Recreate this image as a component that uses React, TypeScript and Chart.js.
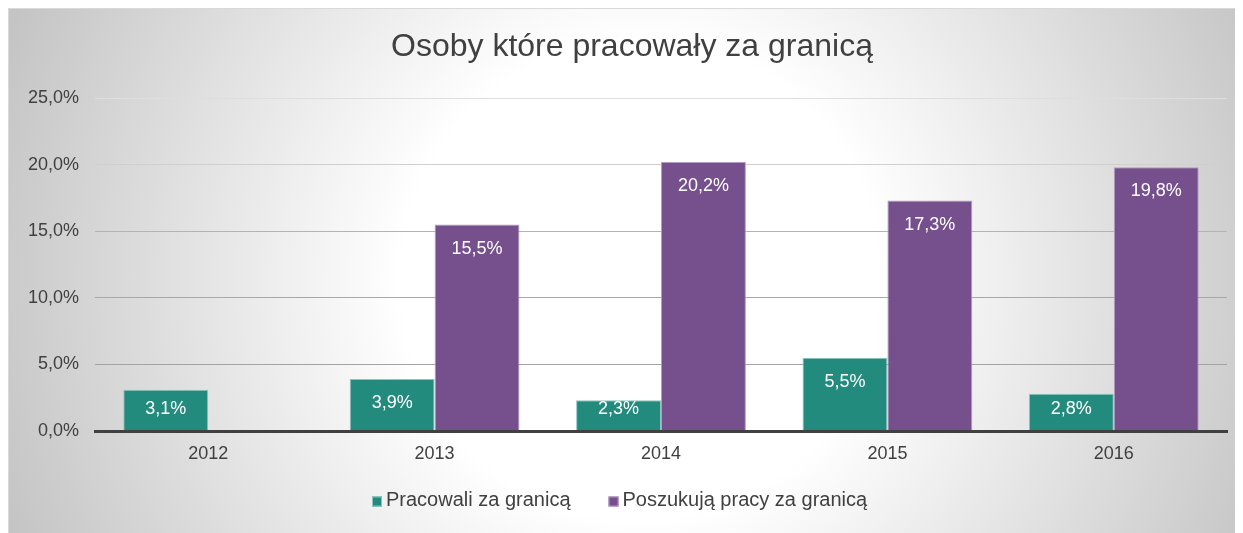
import React, { useEffect, useRef } from "react";
import { Chart, registerables } from "chart.js";

Chart.register(...registerables);

const chartTitle = "Osoby które pracowały za granicą";
const categories = ["2012", "2013", "2014", "2015", "2016"];
const seriesNames = ["Pracowali za granicą", "Poszukują pracy za granicą"];
const pracowali = [3.1, 3.9, 2.3, 5.5, 2.8];
const poszukuja: (number | null)[] = [null, 15.5, 20.2, 17.3, 19.8];
const yTickValues = [0, 5, 10, 15, 20, 25];

const FONT = '"Liberation Sans", Arial, sans-serif';
const TEXT = "#404040";
const TEAL = "#238a7e";
const PURPLE = "#764f8d";
const TEAL_BORDER = "#8cc5be";
const PURPLE_BORDER = "#b59bc7";

const fmt = (v: number) => v.toFixed(1).replace(".", ",") + "%";

const gridColors: Record<number, string> = {
  0: "rgba(0,0,0,0)",
  5: "#a3a3a3",
  10: "#a8a8a8",
  15: "#b3b3b3",
  20: "#cfcfcf",
  25: "#dedede",
};

const backgroundPlugin = {
  id: "bg",
  beforeDraw(chart: any) {
    const { ctx, width, height } = chart;
    ctx.save();
    const cx = 632, cy = 272, r = 680;
    const g = ctx.createRadialGradient(cx, cy, 0, cx, cy, r);
    g.addColorStop(0, "#ffffff");
    g.addColorStop(0.35, "#ffffff");
    g.addColorStop(1, "#c4c4c4");
    ctx.fillStyle = g;
    ctx.fillRect(0, 0, width, height);
    ctx.strokeStyle = "#d9d9d9";
    ctx.lineWidth = 1;
    ctx.strokeRect(0.5, 0.5, width - 1, height - 1);
    ctx.restore();
  },
};

const titlePlugin = {
  id: "customTitle",
  afterDraw(chart: any) {
    const { ctx, width } = chart;
    ctx.save();
    ctx.font = `32px ${FONT}`;
    ctx.fillStyle = TEXT;
    ctx.textAlign = "center";
    ctx.textBaseline = "middle";
    ctx.fillText(chartTitle, width / 2, 39);
    ctx.restore();
  },
};

const legendPlugin = {
  id: "customLegend",
  afterDraw(chart: any) {
    const { ctx } = chart;
    ctx.save();
    ctx.font = `20px ${FONT}`;
    ctx.textBaseline = "middle";
    ctx.textAlign = "left";
    let x = 364;
    const cy = 492.5;
    chart.data.datasets.forEach((ds: any) => {
      ctx.fillStyle = ds.backgroundColor;
      ctx.fillRect(x, cy - 4, 10, 10);
      ctx.strokeStyle = ds.borderColor;
      ctx.lineWidth = 1;
      ctx.strokeRect(x + 0.5, cy - 3.5, 9, 9);
      ctx.fillStyle = TEXT;
      ctx.fillText(ds.label, x + 14, cy);
      x += 14 + ctx.measureText(ds.label).width + 38;
    });
    ctx.restore();
  },
};

const dataLabelPlugin = {
  id: "dataLabels",
  afterDatasetsDraw(chart: any) {
    const { ctx } = chart;
    ctx.save();
    ctx.font = `18px ${FONT}`;
    ctx.fillStyle = "#ffffff";
    ctx.textAlign = "center";
    ctx.textBaseline = "middle";
    chart.data.datasets.forEach((ds: any, di: number) => {
      const meta = chart.getDatasetMeta(di);
      meta.data.forEach((el: any, i: number) => {
        const v = ds.data[i];
        if (v === null || v === undefined) return;
        const ty = Math.min(el.y + 24, el.base - 21);
        ctx.fillText(fmt(v), el.x, ty);
      });
    });
    ctx.restore();
  },
};

export default function App() {
  const ref = useRef<HTMLCanvasElement>(null);

  useEffect(() => {
    document.documentElement.style.overflow = "hidden";
    const root = document.getElementById("root");
    if (root) root.style.width = "1248px";
    const canvas = ref.current;
    if (!canvas) return;
    const chart = new Chart(canvas, {
      type: "bar",
      data: {
        labels: categories,
        datasets: [
          {
            label: seriesNames[0],
            data: pracowali,
            backgroundColor: TEAL,
            borderColor: TEAL_BORDER,
            borderWidth: 1,
            categoryPercentage: 0.75,
            barPercentage: 1,
          },
          {
            label: seriesNames[1],
            data: poszukuja,
            backgroundColor: PURPLE,
            borderColor: PURPLE_BORDER,
            borderWidth: 1,
            categoryPercentage: 0.75,
            barPercentage: 1,
          },
        ],
      },
      options: {
        responsive: false,
        animation: false,
        devicePixelRatio: 1,
        layout: { padding: { top: 90, left: 0, right: 29, bottom: 57 } },
        plugins: {
          legend: { display: false },
          title: { display: false },
          tooltip: { enabled: false },
        },
        scales: {
          x: {
            grid: { display: false, drawTicks: false },
            border: { display: true, color: "#404040", width: 3, z: 1 },
            ticks: { color: TEXT, font: { family: FONT, size: 18 }, padding: 12 },
            afterFit: (scale: any) => {
              scale.height = 50;
            },
          },
          y: {
            min: 0,
            max: 25,
            afterBuildTicks: (scale: any) => {
              scale.ticks = yTickValues.map((v) => ({ value: v }));
            },
            grid: {
              drawTicks: false,
              color: (c: any) => gridColors[c.tick?.value] ?? "#b0b0b0",
              lineWidth: 1,
            },
            border: { display: false },
            ticks: {
              color: TEXT,
              font: { family: FONT, size: 18 },
              padding: 16,
              callback: (v: any) => fmt(Number(v)),
            },
            afterFit: (scale: any) => {
              scale.width = 87;
            },
          },
        },
      },
      plugins: [backgroundPlugin, titlePlugin, legendPlugin, dataLabelPlugin],
    });
    return () => chart.destroy();
  }, []);

  return (
    <div style={{ width: 1248, height: 530 }}>
      <canvas ref={ref} width={1248} height={530} style={{ display: "block" }} />
    </div>
  );
}
